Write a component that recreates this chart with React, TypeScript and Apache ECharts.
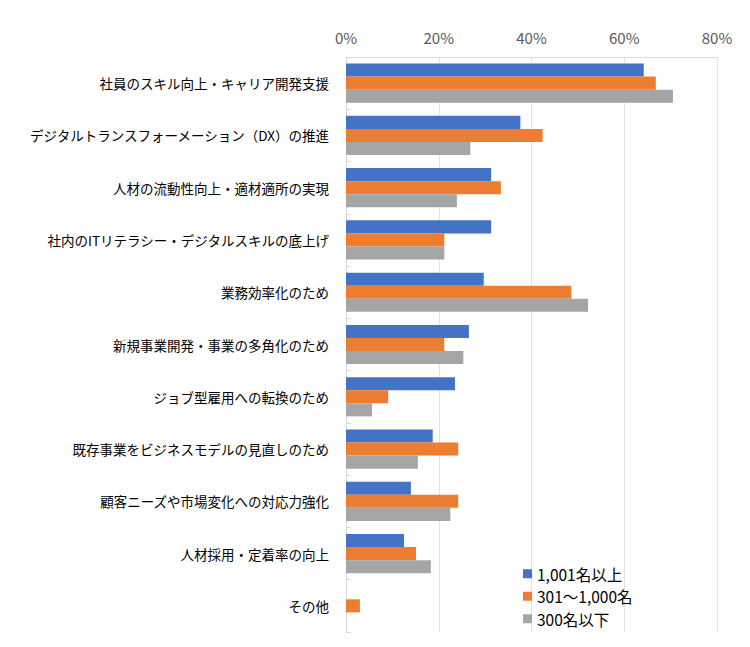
import React, { useEffect, useRef } from "react";
import * as echarts from "echarts";

const categories = [
  "社員のスキル向上・キャリア開発支援",
  "デジタルトランスフォーメーション（DX）の推進",
  "人材の流動性向上・適材適所の実現",
  "社内のITリテラシー・デジタルスキルの底上げ",
  "業務効率化のため",
  "新規事業開発・事業の多角化のため",
  "ジョブ型雇用への転換のため",
  "既存事業をビジネスモデルの見直しのため",
  "顧客ニーズや市場変化への対応力強化",
  "人材採用・定着率の向上",
  "その他",
];

const seriesNames = ["1,001名以上", "301～1,000名", "300名以下"];
const large = [64.2, 37.6, 31.3, 31.3, 29.7, 26.5, 23.5, 18.7, 14.0, 12.5, 0];
const medium = [66.8, 42.4, 33.4, 21.2, 48.6, 21.2, 9.1, 24.2, 24.2, 15.1, 3.0];
const small = [70.5, 26.8, 23.9, 21.2, 52.2, 25.3, 5.6, 15.5, 22.5, 18.3, 0];
const xTicks = [0, 20, 40, 60, 80];

const colors = ["#4472C4", "#ED7D31", "#A5A5A5"];
const FONT = "'Noto Sans CJK JP', 'Noto Sans', sans-serif";

export default function App() {
  const ref = useRef<HTMLDivElement>(null);
  useEffect(() => {
    if (!ref.current) return;
    const chart = echarts.init(ref.current, undefined, { renderer: "svg" });
    const data = [large, medium, small];
    chart.setOption({
      animation: false,
      textStyle: { fontFamily: FONT },
      color: colors,
      legend: {
        orient: "vertical",
        left: 510,
        top: 553,
        height: 120,
        itemWidth: 9,
        itemHeight: 9,
        itemGap: 7,
        icon: "rect",
        textStyle: { fontSize: 15.5, color: "#000", fontFamily: FONT },
        data: seriesNames,
      },
      grid: { left: 338, right: 25, top: 49, height: 575, containLabel: false },
      xAxis: {
        type: "value",
        position: "top",
        min: xTicks[0],
        max: xTicks[xTicks.length - 1],
        interval: 20,
        axisLabel: {
          formatter: "{value}%",
          fontSize: 15,
          color: "#595959",
          margin: 12,
          fontFamily: FONT,
        },
        axisLine: { show: true, lineStyle: { color: "#d9d9d9" } },
        axisTick: { show: false },
        splitLine: { show: true, lineStyle: { color: "#e3e3e3" } },
      },
      yAxis: {
        type: "category",
        inverse: true,
        data: categories,
        axisLabel: { fontSize: 13.5, color: "#000", margin: 17, fontFamily: FONT },
        axisLine: { show: true, lineStyle: { color: "#d9d9d9" } },
        axisTick: { show: true, inside: true, length: 5, lineStyle: { color: "#d9d9d9" } },
        splitLine: { show: false },
      },
      series: seriesNames.map((name, i) => ({
        name,
        type: "bar",
        data: data[i],
        barGap: "0%",
        barCategoryGap: "25%",
        itemStyle: { color: colors[i] },
      })),
    });
    return () => chart.dispose();
  }, []);
  return <div ref={ref} style={{ width: 734, height: 631 }} />;
}
